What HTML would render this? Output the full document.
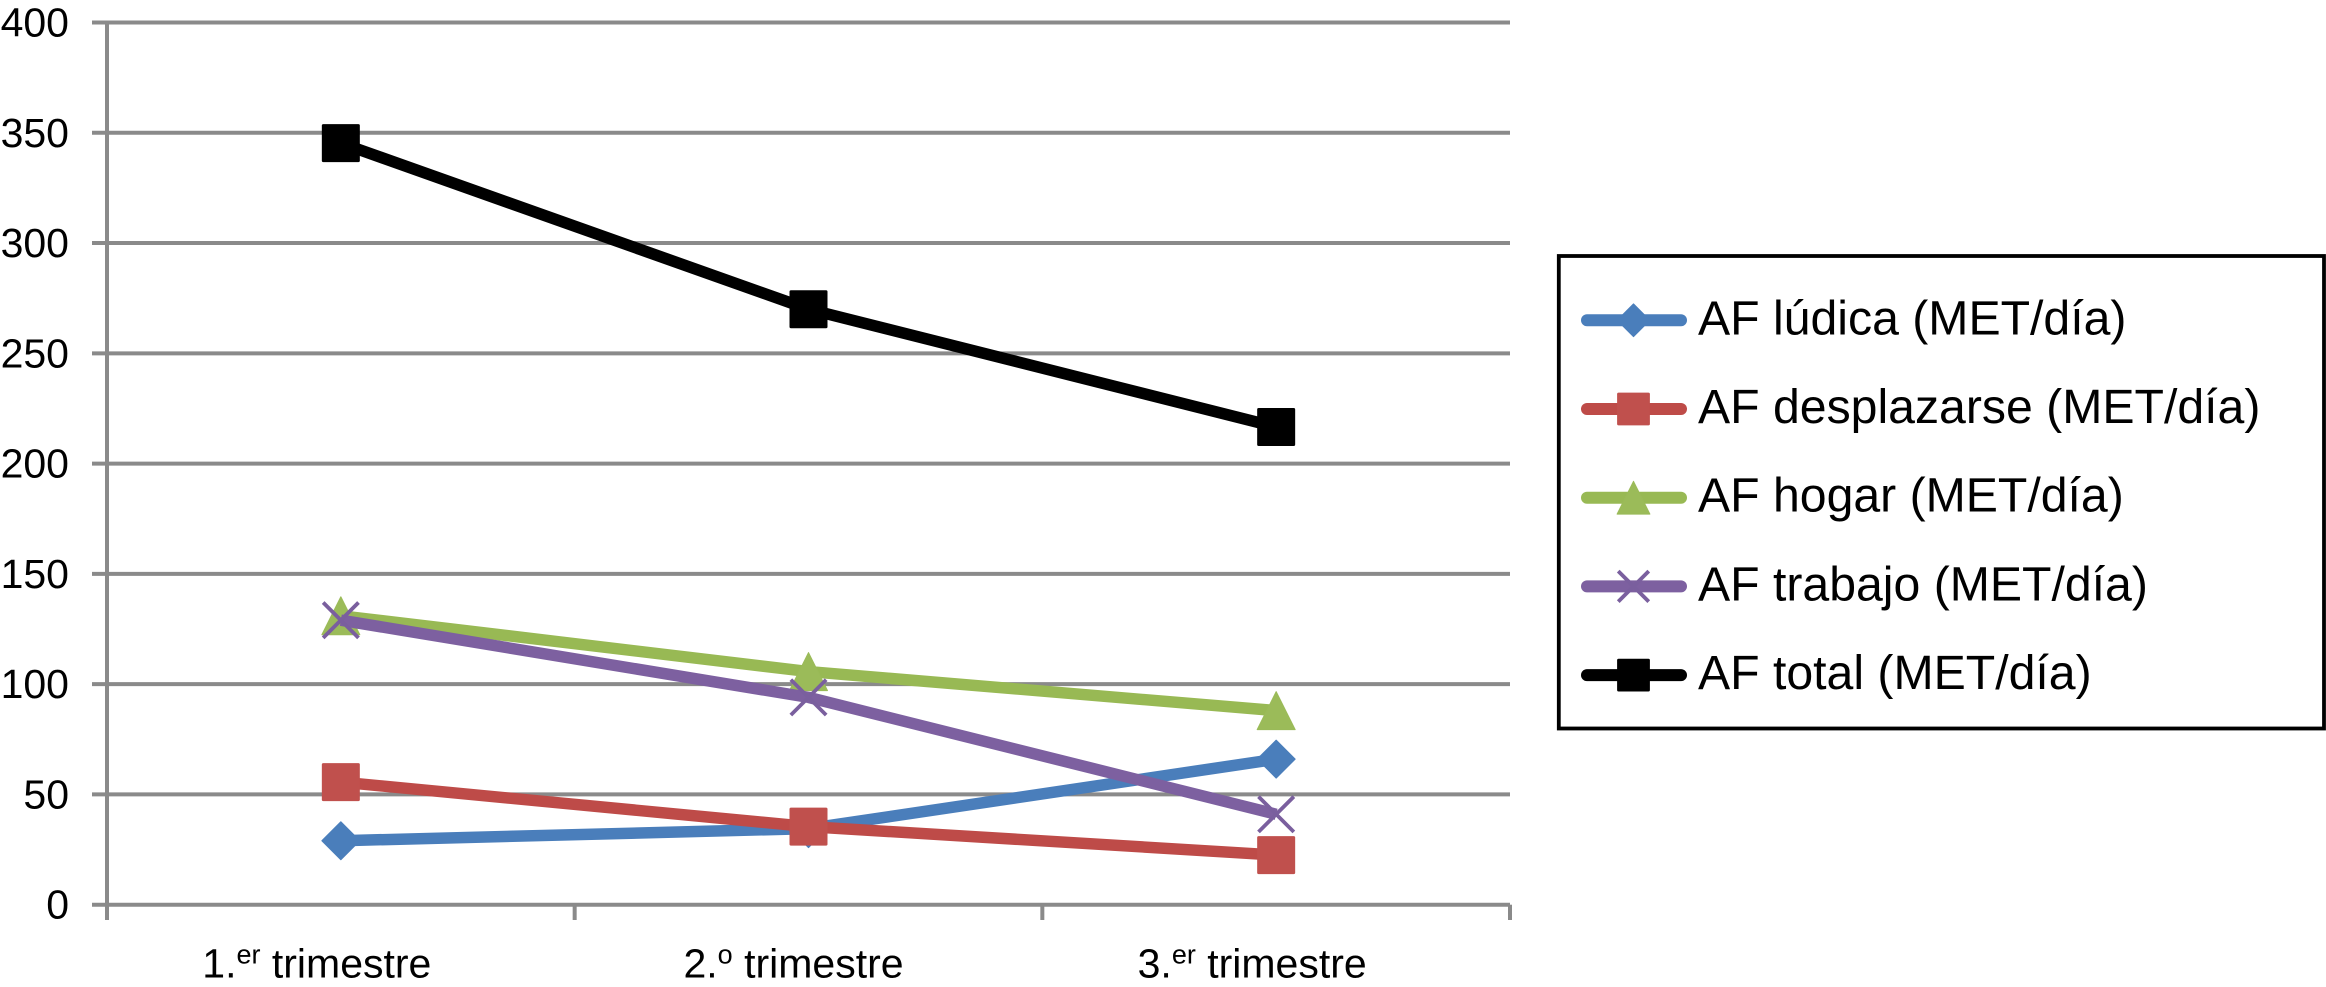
<!DOCTYPE html>
<html lang="es">
<head>
<meta charset="utf-8">
<title>AF por trimestre</title>
<style>
html,body{margin:0;padding:0;background:#fff;width:2326px;height:987px;overflow:hidden}
svg{display:block;font-family:"Liberation Sans",Arial,sans-serif;fill:#000}
</style>
</head>
<body>
<svg id="chart" xmlns="http://www.w3.org/2000/svg" width="2326" height="987" viewBox="0 0 2326 987">
  <g id="grid"></g>
  <g id="axes"></g>
  <g id="series"></g>
  <g id="legend">
    <rect x="1558.8" y="256" width="765.2" height="472.5" fill="#fff" stroke="#000" stroke-width="3.8"></rect>
  </g>
</svg>
<script>
const categoryLead = ['1.', '2.', '3.'];
const categorySup = ['er', 'o', 'er'];
const categoryRest = [' trimestre', ' trimestre', ' trimestre'];
const yTicks = [0, 50, 100, 150, 200, 250, 300, 350, 400];
const afLudica = [29, 34.5, 66];
const afDesplazarse = [55.6, 35.4, 22.5];
const afHogar = [131, 105.7, 88];
const afTrabajo = [129, 94, 41];
const afTotal = [345.3, 270, 216.6];
const seriesNames = ['AF lúdica (MET/día)', 'AF desplazarse (MET/día)', 'AF hogar (MET/día)', 'AF trabajo (MET/día)', 'AF total (MET/día)'];

const NS = 'http://www.w3.org/2000/svg';
const plotLeft = 107, plotRight = 1510, yZero = 904.7, yTop = 22.5, yMax = 400;
const bandWidth = (plotRight - plotLeft) / categoryLead.length;
function xScale(i) { return plotLeft + bandWidth * (i + 0.5); }
function yScale(v) { return yZero - (v / yMax) * (yZero - yTop); }
function labelOffset(i) { return categorySup[i] === 'o' ? -15 : -24; }

const seriesValues = [afLudica, afDesplazarse, afHogar, afTrabajo, afTotal];
const seriesKeys = ['ludica', 'desplazarse', 'hogar', 'trabajo', 'total'];
const lineColors = ['#4a7ebb', '#be4b48', '#98b954', '#7d60a0', '#000000'];
const markerColors = ['#4a7ebb', '#c0504d', '#9bbb59', '#7a5f9e', '#000000'];
const markerKinds = ['diamond', 'square', 'triangle', 'cross', 'square'];

function make(tag, parent, attrs) {
  const el = document.createElementNS(NS, tag);
  for (const k in attrs) el.setAttribute(k, attrs[k]);
  parent.appendChild(el);
  return el;
}

function drawMarker(parent, kind, cx, cy, r, color) {
  let el;
  if (kind === 'diamond') {
    el = make('path', parent, { d: `M${cx} ${cy - r}L${cx + r} ${cy}L${cx} ${cy + r}L${cx - r} ${cy}Z`, fill: color, stroke: color, 'stroke-width': 1, 'stroke-linejoin': 'round' });
  } else if (kind === 'square') {
    el = make('rect', parent, { x: cx - r, y: cy - r, width: 2 * r, height: 2 * r, rx: 1.5, fill: color });
  } else if (kind === 'triangle') {
    el = make('path', parent, { d: `M${cx} ${cy - r}L${cx + r} ${cy + r}L${cx - r} ${cy + r}Z`, fill: color, stroke: color, 'stroke-width': 1, 'stroke-linejoin': 'round' });
  } else {
    const q = r * 0.93;
    el = make('path', parent, { d: `M${cx - q} ${cy - q}L${cx + q} ${cy + q}M${cx - q} ${cy + q}L${cx + q} ${cy - q}`, fill: 'none', stroke: color, 'stroke-width': 3.8 });
  }
  return el;
}

const grid = document.getElementById('grid');
const axes = document.getElementById('axes');
const seriesGroup = document.getElementById('series');
const legend = document.getElementById('legend');

yTicks.forEach(function (t) {
  const gl = make('line', grid, { x1: 92, x2: plotRight, y1: yScale(t), y2: yScale(t), stroke: '#8a8a8a', 'stroke-width': 4 });
  
  
  const lab = make('text', axes, { x: 69, y: yScale(t) + 14, 'text-anchor': 'end', 'font-size': 41 });
  lab.textContent = t;
  
  
});

const yAxis = make('line', axes, { x1: plotLeft, x2: plotLeft, y1: yTop - 2, y2: 920, stroke: '#8a8a8a', 'stroke-width': 4 });



for (let i = 1; i <= categoryLead.length; i++) {
  const tk = make('line', axes, { x1: plotLeft + bandWidth * i, x2: plotLeft + bandWidth * i, y1: yZero, y2: 920, stroke: '#8a8a8a', 'stroke-width': 4 });
  
  
}

categoryLead.forEach(function (lead, i) {
  const t = make('text', axes, { x: xScale(i) + labelOffset(i), y: 977.5, 'text-anchor': 'middle', 'font-size': 41 });
  
  
  const a = make('tspan', t, {});
  a.textContent = lead;
  const b = make('tspan', t, { dy: -14, 'font-size': 27 });
  b.textContent = categorySup[i];
  const c = make('tspan', t, { dy: 14 });
  c.textContent = categoryRest[i];
});

seriesValues.forEach(function (vals, s) {
  const g = make('g', seriesGroup, {});
  
  
  const pts = vals.map(function (v, i) { return xScale(i) + ',' + yScale(v); }).join(' ');
  const line = make('polyline', g, { points: pts, fill: 'none', stroke: lineColors[s], 'stroke-width': 11.5, 'stroke-linejoin': 'round' });
  
  
  vals.forEach(function (v, i) {
    const m = drawMarker(g, markerKinds[s], xScale(i), yScale(v), 19, markerColors[s]);
    
    
  });
});

seriesNames.forEach(function (name, s) {
  const cy = 320.3 + 88.7 * s;
  const g = make('g', legend, {});
  
  
  const ln = make('line', g, { x1: 1587, x2: 1681, y1: cy, y2: cy, stroke: lineColors[s], 'stroke-width': 12, 'stroke-linecap': 'round' });
  
  
  const mk = drawMarker(g, markerKinds[s], 1633.5, cy, 16.4, markerColors[s]);
  
  
  const tx = make('text', g, { x: 1698, y: cy + 14, 'font-size': 48.2 });
  tx.textContent = name;
  
  
});
</script>
</body>
</html>
